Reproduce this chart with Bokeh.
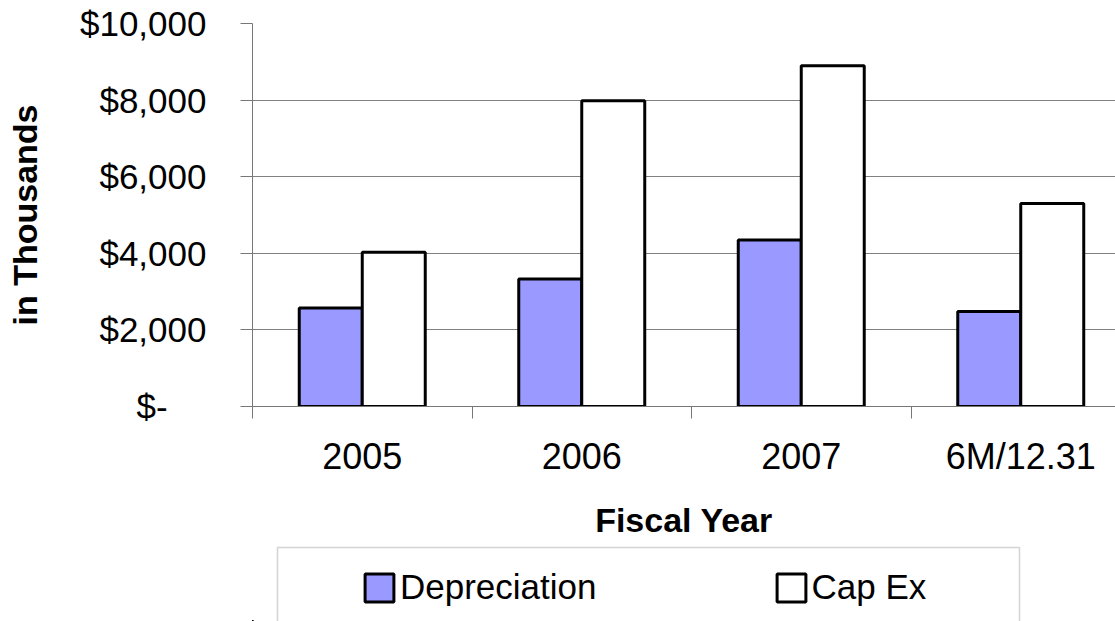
from bokeh.plotting import figure
from bokeh.layouts import column
from bokeh.models import (Range1d, FixedTicker, NumeralTickFormatter, Legend,
                          LegendItem, BoxAnnotation, ColumnDataSource)
from bokeh.embed import file_html
from bokeh.resources import INLINE

# ---- data ----
categories = ["2005", "2006", "2007", "6M/12.31"]
depreciation = [2570, 3330, 4350, 2480]
cap_ex = [4030, 7980, 8900, 5300]
y_ticks = [0, 2000, 4000, 6000, 8000, 10000]
grid_ticks = [2000, 4000, 6000, 8000]
series_names = ["Depreciation", "Cap Ex"]

FONT = "Liberation Sans"
DEP_COLOR = "#9999FF"
BAR_W = 0.287
idx = list(range(len(categories)))

W = 1115
LEFT = 252
H_MAIN = 545
H_LEG = 621 - H_MAIN

src = ColumnDataSource(dict(
    cat=categories,
    dep_x=[i + 0.5 - BAR_W / 2 for i in idx],
    cap_x=[i + 0.5 + BAR_W / 2 for i in idx],
    dep=depreciation,
    cap=cap_ex,
))

p = figure(width=W, height=H_MAIN, output_backend="svg", toolbar_location=None,
           x_range=Range1d(0, (W - LEFT) / 219.5), y_range=Range1d(0, 10000),
           min_border_left=LEFT, min_border_right=0, min_border_top=23,
           min_border_bottom=H_MAIN - 23 - 383)
p.outline_line_color = None

r1 = p.vbar(x="dep_x", top="dep", bottom=0, width=BAR_W, source=src,
            fill_color=DEP_COLOR, line_color="black", line_width=3)
r2 = p.vbar(x="cap_x", top="cap", bottom=0, width=BAR_W, source=src,
            fill_color="white", line_color="black", line_width=3)

# x axis
xa = p.xaxis[0]
xa.ticker = FixedTicker(ticks=[i + 0.5 for i in idx], minor_ticks=[float(i) for i in idx])
xa.major_label_overrides = {i + 0.5: c for i, c in zip(idx, categories)}
xa.major_tick_out = 0
xa.major_tick_in = 0
xa.minor_tick_out = 12
xa.minor_tick_in = 0
xa.minor_tick_line_color = "#777777"
xa.axis_line_color = "#777777"
xa.major_label_standoff = 17
xa.major_label_text_font = FONT
xa.major_label_text_font_size = "36px"
xa.major_label_text_color = "black"
xa.axis_label = "Fiscal Year"
xa.axis_label_text_font = FONT
xa.axis_label_text_font_style = "bold"
xa.axis_label_text_font_size = "34px"
xa.axis_label_text_color = "black"
xa.axis_label_standoff = 21

# y axis
ya = p.yaxis[0]
ya.ticker = FixedTicker(ticks=y_ticks, minor_ticks=[])
ya.formatter = NumeralTickFormatter(format="$0,0")
ya.major_label_overrides = {0: "$-\u00a0\u00a0\u00a0\u00a0"}
ya.major_tick_out = 12
ya.major_tick_in = 0
ya.minor_tick_out = 0
ya.minor_tick_in = 0
ya.major_tick_line_color = "#777777"
ya.axis_line_color = "#777777"
ya.major_label_standoff = 34
ya.major_label_text_font = FONT
ya.major_label_text_font_size = "35px"
ya.major_label_text_color = "black"
ya.axis_label = "in Thousands"
ya.axis_label_text_font = FONT
ya.axis_label_text_font_style = "bold"
ya.axis_label_text_font_size = "34px"
ya.axis_label_text_color = "black"
ya.axis_label_standoff = 33

p.xgrid.grid_line_color = None
p.ygrid.ticker = FixedTicker(ticks=grid_ticks)
p.ygrid.grid_line_color = "#808080"
p.ygrid.grid_line_width = 1

# ---- legend strip (separate figure so nothing is clipped) ----
q = figure(width=W, height=H_LEG, output_backend="svg", toolbar_location=None,
           x_range=Range1d(LEFT, W), y_range=Range1d(H_LEG, 0),
           x_axis_type=None, y_axis_type=None,
           min_border_left=LEFT, min_border_right=0, min_border_top=0,
           min_border_bottom=0)
q.outline_line_color = None
q.xgrid.visible = False
q.ygrid.visible = False
# ranges that keep the legend proxy bars well outside the strip's frame
q.extra_x_ranges = {"off": Range1d(40, 80)}
q.extra_y_ranges = {"off": Range1d(50000, 60000)}

l1 = q.vbar(x="dep_x", top="dep", bottom=0, width=BAR_W, source=src,
            x_range_name="off", y_range_name="off",
            fill_color=DEP_COLOR, line_color="black", line_width=3)
l2 = q.vbar(x="cap_x", top="cap", bottom=0, width=BAR_W, source=src,
            x_range_name="off", y_range_name="off",
            fill_color="white", line_color="black", line_width=3)

legend = Legend(items=[LegendItem(label=series_names[0], renderers=[l1]),
                       LegendItem(label=series_names[1], renderers=[l2])],
                orientation="horizontal", location=(361 - LEFT, 14), padding=0,
                spacing=176, glyph_width=36, glyph_height=35, label_standoff=3,
                label_text_font=FONT, label_text_font_size="35px",
                label_text_color="black",
                border_line_color=None, background_fill_alpha=0, margin=0)
q.add_layout(legend)

box = BoxAnnotation(left=277, right=1019, top=2, bottom=H_LEG + 20,
                    fill_alpha=0, line_color="#707070", line_width=1.5)
q.add_layout(box)

layout = column(p, q, spacing=0)
open("out.html", "w").write(file_html(layout, INLINE))
